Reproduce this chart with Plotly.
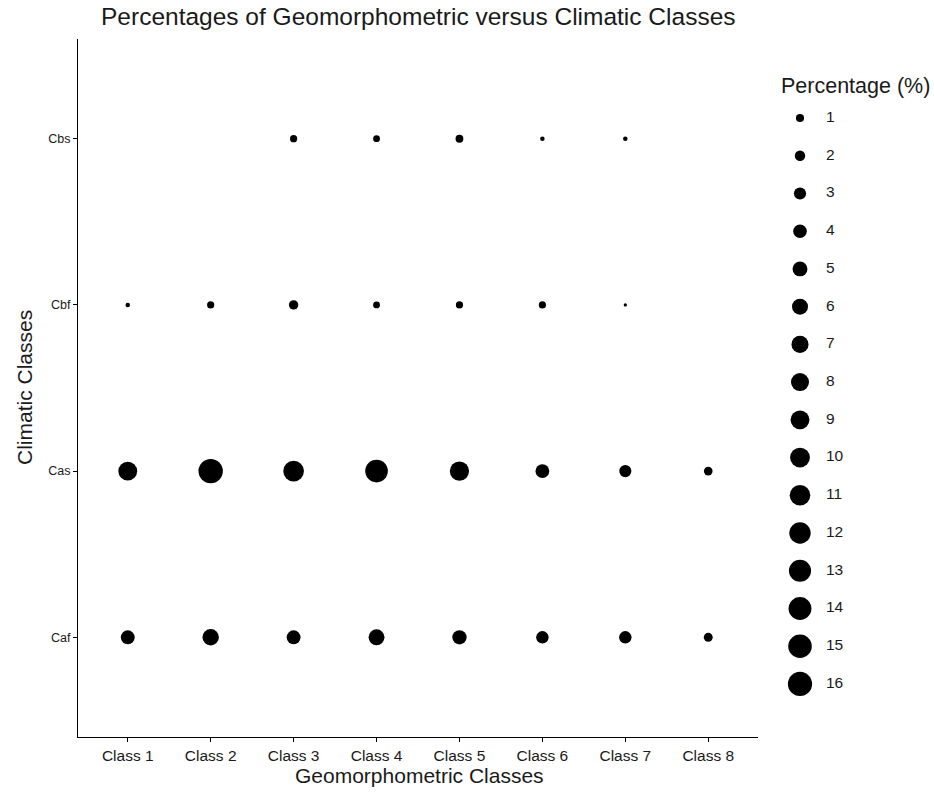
import plotly.graph_objects as go
import math

# ---------------- data ----------------
geo_classes = ["Class 1", "Class 2", "Class 3", "Class 4", "Class 5", "Class 6", "Class 7", "Class 8"]
clim_classes = ["Caf", "Cas", "Cbf", "Cbs"]
caf = [4.2, 6.4, 4.2, 5.9, 4.5, 3.2, 3.2, 1.3]
cas = [9.0, 16.3, 11.1, 13.7, 9.4, 4.2, 3.0, 1.2]
cbf = [0.2, 0.7, 1.5, 0.6, 0.7, 0.7, 0.15, None]
cbs = [None, None, 0.7, 0.6, 0.9, 0.2, 0.2, None]
legend_breaks = list(range(1, 17))

W, H = 934, 793
FONT = "Liberation Sans, Arial, sans-serif"
TXT = "#1a1a1a"

series = {"Caf": caf, "Cas": cas, "Cbf": cbf, "Cbs": cbs}
all_vals = [v for s in series.values() for v in s if v is not None]
vmin, vmax = min(all_vals), max(all_vals)

# ggplot-like area scale: diameter = a + b*sqrt(rescaled value)
D_MIN, D_MAX = 3.3, 24.4


def diam(v):
    r = (v - vmin) / (vmax - vmin)
    r = min(max(r, 0.0), 1.0)
    return D_MIN + (D_MAX - D_MIN) * math.sqrt(r)


xs, ys, ss, vs = [], [], [], []
for clim, vals in series.items():
    for g, v in zip(geo_classes, vals):
        if v is None:
            continue
        xs.append(g)
        ys.append(clim)
        ss.append(diam(v))
        vs.append(v)

fig = go.Figure()
fig.add_trace(go.Scatter(
    x=xs, y=ys, mode="markers",
    marker=dict(size=ss, color="black", opacity=1, line=dict(width=0)),
    text=[f"{v}%" for v in vs], hoverinfo="x+y+text",
    showlegend=False, xaxis="x", yaxis="y",
))

# ---------------- manual size legend ----------------
fig.add_trace(go.Scatter(
    x=[30] * len(legend_breaks), y=legend_breaks, mode="markers",
    marker=dict(size=[diam(b) for b in legend_breaks], color="black", opacity=1,
                line=dict(width=0)),
    showlegend=False, hoverinfo="skip", xaxis="x2", yaxis="y2",
))
fig.add_trace(go.Scatter(
    x=[56] * len(legend_breaks), y=legend_breaks, mode="text",
    text=[str(b) for b in legend_breaks], textposition="middle right",
    textfont=dict(family=FONT, size=15.5, color=TXT),
    showlegend=False, hoverinfo="skip", xaxis="x2", yaxis="y2",
))

# pixel geometry
PL, PR, PT, PB = 78, 758, 39, 737
LEG_Y1, LEG_STEP = 118, 37.73

fig.update_layout(
    width=W, height=H,
    margin=dict(l=0, r=0, t=0, b=0),
    paper_bgcolor="white", plot_bgcolor="white",
    font=dict(family=FONT, color="black"),
    xaxis=dict(
        domain=[PL / W, PR / W],
        type="category", categoryorder="array", categoryarray=geo_classes,
        range=[-0.6, len(geo_classes) - 1 + 0.6],
        showline=True, linecolor="black", linewidth=1,
        ticks="outside", ticklen=4, tickcolor="black", tickwidth=1,
        showgrid=False, zeroline=False,
        tickfont=dict(family=FONT, size=15.5, color=TXT),
        fixedrange=True,
    ),
    yaxis=dict(
        domain=[1 - PB / H, 1 - PT / H],
        type="category", categoryorder="array", categoryarray=clim_classes,
        range=[-0.6, len(clim_classes) - 1 + 0.6],
        showline=True, linecolor="black", linewidth=1,
        ticks="outside", ticklen=4, tickcolor="black", tickwidth=1,
        showgrid=False, zeroline=False,
        tickfont=dict(family=FONT, size=12.5, color=TXT),
        fixedrange=True,
    ),
    xaxis2=dict(
        domain=[770 / W, 1.0], range=[0, 164], visible=False, fixedrange=True,
        anchor="y2",
    ),
    yaxis2=dict(
        domain=[0, 1],
        range=[1 + (H - LEG_Y1) / LEG_STEP, 1 - LEG_Y1 / LEG_STEP],
        visible=False, fixedrange=True, anchor="x2",
    ),
    annotations=[
        dict(text="Percentages of Geomorphometric versus Climatic Classes",
             x=418 / W, y=1 - 16 / H, xref="paper", yref="paper",
             xanchor="center", yanchor="middle", showarrow=False,
             font=dict(family=FONT, size=24.5, color=TXT)),
        dict(text="Geomorphometric Classes",
             x=419 / W, y=1 - 775 / H, xref="paper", yref="paper",
             xanchor="center", yanchor="middle", showarrow=False,
             font=dict(family=FONT, size=21, color=TXT)),
        dict(text="Climatic Classes", textangle=-90,
             x=24 / W, y=1 - ((PT + PB) / 2) / H, xref="paper", yref="paper",
             xanchor="center", yanchor="middle", showarrow=False,
             font=dict(family=FONT, size=21, color=TXT)),
        dict(text="Percentage (%)",
             x=779 / W, y=1 - 86 / H, xref="paper", yref="paper",
             xanchor="left", yanchor="middle", showarrow=False,
             font=dict(family=FONT, size=21.5, color=TXT)),
    ],
)

fig.write_html("out.html")
